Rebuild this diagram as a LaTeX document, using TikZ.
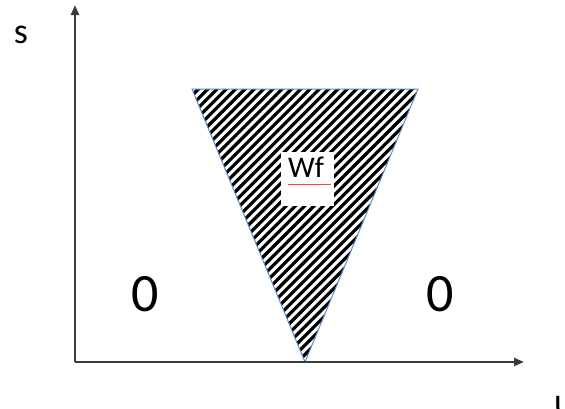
\documentclass[tikz,border=0pt]{standalone}
\usepackage{fontspec}
\setmainfont{Carlito}
\usetikzlibrary{arrows.meta}
\definecolor{axisgray}{HTML}{3A3A3A}
\definecolor{edgeblue}{HTML}{5B8CC8}
\tikzset{
  axis/.style={draw=axisgray, line width=2.4pt, -{Triangle[length=10pt,width=8pt]}},
  hatch/.style={black, line width=3.2pt},
  lbl/.style={inner sep=0pt, font=\fontsize{36}{36}\selectfont},
  zero/.style={inner sep=0pt, font=\fontsize{54}{54}\selectfont},
}
\begin{document}
\begin{tikzpicture}[x=1pt,y=-1pt]
\useasboundingbox (0,0) rectangle (565,408);
\coordinate (O) at (75,362);
\coordinate (ytip) at (75,5);
\coordinate (xtip) at (524,362);
\coordinate (A) at (192,89);
\coordinate (B) at (418,89);
\coordinate (C) at (305,362);
\begin{scope}
  \clip (A) -- (B) -- (C) -- cycle;
  \foreach \k in {-40,...,40} {
    \draw[hatch] (150+9.3*\k,370) -- ++(300,-300);
  }
\end{scope}
\draw[edgeblue, line width=1pt] (A) -- (B) -- (C) -- cycle;
\node[fill=white, minimum width=53pt, minimum height=54pt, inner sep=0pt] (wfbox) at (307.5,179) {};
\node[inner sep=0pt, anchor=base, font=\fontsize{30}{30}\selectfont] (wf) at (306,177) {Wf};
\draw[red!75!white, line width=1pt] (288,184) -- (331,184);
\draw[axis] (O) -- (ytip);
\draw[axis] (O) -- (xtip);
\node[lbl, anchor=base] (s) at (21,43) {s};
\node[lbl, anchor=base west] (u) at (554,413) {u};
\node[zero] (z1) at (145,294) {0};
\node[zero] (z2) at (440,294) {0};
\end{tikzpicture}
\end{document}
